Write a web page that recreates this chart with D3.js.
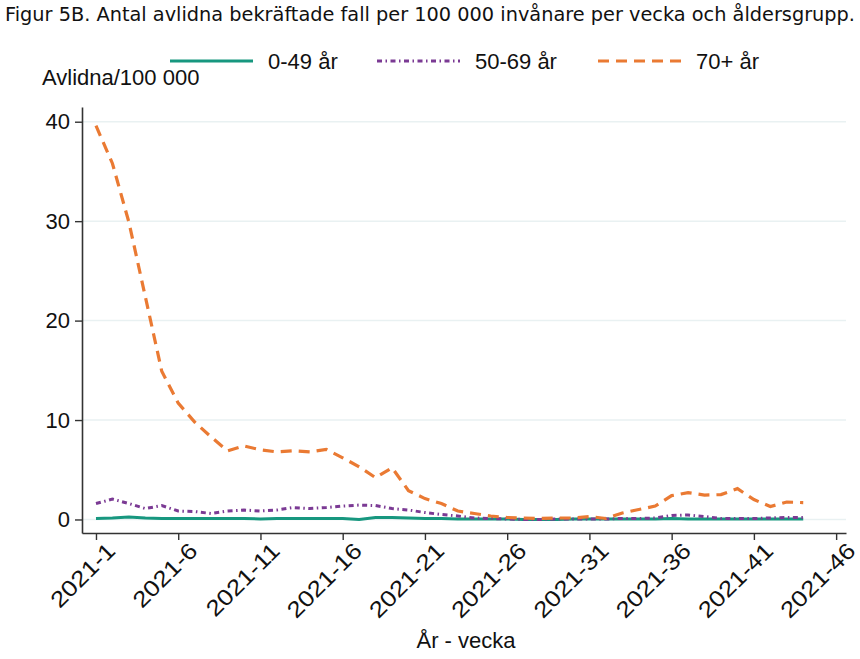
<!DOCTYPE html>
<html>
<head>
<meta charset="utf-8">
<script src="https://cdn.jsdelivr.net/npm/d3@7"></script>
<style>
  body { margin: 0; background: #fff; }
  text { font-family: "Liberation Sans", Arial, sans-serif; fill: #111; }
</style>
</head>
<body>
<div id="chart"></div>
<script>
// weeks of 2021
var weeks = [1, 2, 3, 4, 5, 6, 7, 8, 9, 10, 11, 12, 13, 14, 15, 16, 17, 18, 19, 20, 21, 22,
  23, 24, 25, 26, 27, 28, 29, 30, 31, 32, 33, 34, 35, 36, 37, 38, 39, 40, 41, 42, 43, 44];

var age0to49 = [0.1, 0.15, 0.25, 0.15, 0.1, 0.1, 0.1, 0.1, 0.1, 0.1, 0.05, 0.1, 0.1, 0.1, 0.1, 0.1,
  0.0, 0.2, 0.2, 0.15, 0.1, 0.1, 0.05, 0.05, 0.05, 0.05, 0.0, 0.0, 0.0, 0.05, 0.05, 0.05, 0.05,
  0.05, 0.05, 0.1, 0.05, 0.05, 0.05, 0.05, 0.05, 0.05, 0.05, 0.05];

var age50to69 = [1.6, 2.05, 1.6, 1.1, 1.4, 0.85, 0.8, 0.6, 0.85, 0.95, 0.85, 0.95, 1.2, 1.1, 1.2,
  1.35, 1.45, 1.4, 1.1, 0.95, 0.7, 0.5, 0.35, 0.15, 0.1, 0.05, 0.0, 0.0, 0.05, 0.05, 0.05, 0.05,
  0.1, 0.1, 0.15, 0.4, 0.45, 0.3, 0.1, 0.1, 0.1, 0.15, 0.2, 0.2];

var age70plus = [39.6, 35.8, 29.9, 22.4, 14.9, 11.7, 9.8, 8.3, 6.9, 7.4, 7.0, 6.8, 6.9, 6.8, 7.05,
  6.2, 5.3, 4.2, 5.2, 2.9, 2.1, 1.6, 0.85, 0.6, 0.35, 0.2, 0.15, 0.1, 0.15, 0.15, 0.3, 0.1, 0.65,
  1.0, 1.35, 2.4, 2.7, 2.45, 2.5, 3.1, 2.0, 1.3, 1.75, 1.7];

var xTicks = [1, 6, 11, 16, 21, 26, 31, 36, 41, 46];
var yTicks = [0, 10, 20, 30, 40];
var seriesNames = ["0-49 år", "50-69 år", "70+ år"];

var svgWidth = 860;
var svgHeight = 659;
var margin = { top: 107, right: 14, bottom: 126, left: 82 };
var width = svgWidth - margin.left - margin.right;
var height = svgHeight - margin.top - margin.bottom;

var svg = d3.select("#chart").append("svg")
  .attr("width", svgWidth)
  .attr("height", svgHeight);

var chartGroup = svg.append("g")
  .attr("transform", `translate(${margin.left}, ${margin.top})`);

var xScale = d3.scaleLinear().domain([0.15, 46.6]).range([0, width]);
var yScale = d3.scaleLinear().domain([-1.36, 41.48]).range([height, 0]);

// gridlines
chartGroup.selectAll(".grid")
  .data(yTicks)
  .enter()
  .append("line")
  .attr("x1", 0)
  .attr("x2", width)
  .attr("y1", d => yScale(d))
  .attr("y2", d => yScale(d))
  .attr("stroke", "#e9f1f2")
  .attr("stroke-width", 1.5);

// axes
var leftAxis = d3.axisLeft(yScale).tickValues(yTicks).tickSize(7).tickPadding(5).tickSizeOuter(0);
var bottomAxis = d3.axisBottom(xScale).tickValues(xTicks).tickSize(7).tickSizeOuter(0)
  .tickFormat(d => "2021-" + d);

var yAxisG = chartGroup.append("g").call(leftAxis);
yAxisG.selectAll("text").style("font-size", "22px").attr("fill", "#111");

var xAxisG = chartGroup.append("g")
  .attr("transform", `translate(0, ${height})`)
  .call(bottomAxis);
xAxisG.selectAll("text")
  .style("font-size", "24px")
  .attr("fill", "#111")
  .attr("text-anchor", "end")
  .attr("dy", "0.35em")
  .attr("transform", "translate(8, 7) rotate(-45) scale(1.08, 0.94)");

[yAxisG, xAxisG].forEach(function(g) {
  g.select(".domain").attr("stroke", "#333").attr("stroke-width", 1.6);
  g.selectAll(".tick line").attr("stroke", "#333").attr("stroke-width", 1.4);
});

// lines
var series = [
  { name: seriesNames[0], values: age0to49, color: "#17977f", dash: null, w: 3 },
  { name: seriesNames[1], values: age50to69, color: "#7b3a94", dash: "5,3.5,1.5,3.5", w: 3 },
  { name: seriesNames[2], values: age70plus, color: "#ea7a33", dash: "11,7", w: 3.2 }
];

var line = d3.line()
  .x((d, i) => xScale(weeks[i]))
  .y(d => yScale(d));

series.forEach(function(s) {
  chartGroup.append("path")
    .datum(s.values)
    .attr("d", line)
    .attr("fill", "none")
    .attr("stroke", s.color)
    .attr("stroke-width", s.w)
    .attr("stroke-dasharray", s.dash);
});

// title
svg.append("text")
  .attr("x", 5)
  .attr("y", 21)
  .attr("textLength", 850)
  .attr("lengthAdjust", "spacingAndGlyphs")
  .style("font-family", "'DejaVu Sans', Verdana, sans-serif")
  .style("font-size", "19px")
  .text("Figur 5B. Antal avlidna bekräftade fall per 100 000 invånare per vecka och åldersgrupp.");

// legend
var legendX = [170, 377, 598];
var legend = svg.selectAll(".legend")
  .data(series)
  .enter()
  .append("g")
  .attr("transform", (d, i) => `translate(${legendX[i]}, 61)`);

legend.append("line")
  .attr("x1", 0)
  .attr("x2", 83)
  .attr("stroke", d => d.color)
  .attr("stroke-width", d => d.w)
  .attr("stroke-dasharray", d => d.dash);

legend.append("text")
  .attr("x", 98)
  .attr("y", 8)
  .style("font-size", "22px")
  .text(d => d.name);

// axis titles
svg.append("text")
  .attr("x", 42)
  .attr("y", 85)
  .style("font-size", "22px")
  .text("Avlidna/100 000");

svg.append("text")
  .attr("x", 466)
  .attr("y", 648)
  .attr("text-anchor", "middle")
  .style("font-size", "22px")
  .text("År - vecka");
</script>
</body>
</html>
